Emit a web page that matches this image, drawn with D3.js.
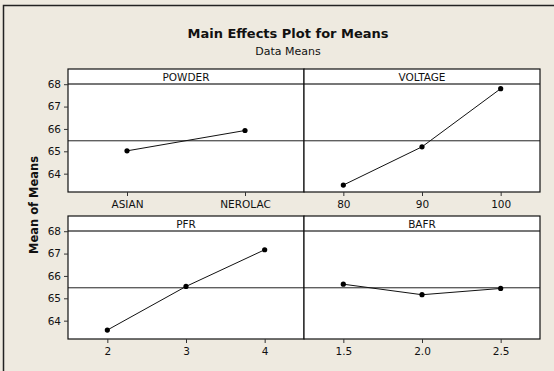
<!DOCTYPE html>
<html>
<head>
<meta charset="utf-8">
<script src="https://cdn.jsdelivr.net/npm/d3@7"></script>
<style>
  body { margin: 0; background: #fff; }
  svg text { font-family: "DejaVu Sans", sans-serif; fill: #111; }
</style>
</head>
<body>
<svg id="chart"></svg>
<script>
const factors = ["POWDER", "VOLTAGE", "PFR", "BAFR"];
const powderLevels = ["ASIAN", "NEROLAC"];
const powderMeans = [65.02, 65.93];
const voltageLevels = ["80", "90", "100"];
const voltageMeans = [63.49, 65.2, 67.8];
const pfrLevels = ["2", "3", "4"];
const pfrMeans = [63.58, 65.53, 67.17];
const bafrLevels = ["1.5", "2.0", "2.5"];
const bafrMeans = [65.63, 65.16, 65.44];
const grandMean = 65.47;
const yTicks = [64, 65, 66, 67, 68];

const width = 554, height = 371;
const svg = d3.select("#chart").attr("width", width).attr("height", height);

// background + frame (only left/top edges are visible)
svg.append("rect").attr("width", width).attr("height", height).attr("fill", "#eeeae0");
svg.append("path").attr("d", `M3.5,${height} V5.5 H${width}`)
  .attr("fill", "none").attr("stroke", "#222").attr("stroke-width", 1.5);

svg.append("text").attr("x", 288).attr("y", 38).attr("text-anchor", "middle")
  .style("font-weight", "bold").style("font-size", "13px").text("Main Effects Plot for Means");
svg.append("text").attr("x", 288).attr("y", 55).attr("text-anchor", "middle")
  .style("font-size", "11px").text("Data Means");

svg.append("text")
  .attr("transform", "translate(38,205) rotate(-90)")
  .attr("text-anchor", "middle")
  .style("font-weight", "bold").style("font-size", "11.5px")
  .text("Mean of Means");

const panels = [
  { name: factors[0], levels: powderLevels, means: powderMeans, col: 0, row: 0 },
  { name: factors[1], levels: voltageLevels, means: voltageMeans, col: 1, row: 0 },
  { name: factors[2], levels: pfrLevels, means: pfrMeans, col: 0, row: 1 },
  { name: factors[3], levels: bafrLevels, means: bafrMeans, col: 1, row: 1 },
];

const colX = [68, 304], panelW = 236;
const rowY = [69, 216], panelH = 123, stripH = 15;

panels.forEach(p => {
  const x0 = colX[p.col], y0 = rowY[p.row];
  const g = svg.append("g").attr("transform", `translate(${x0},${y0})`);

  const x = d3.scalePoint().domain(p.levels).range([0, panelW]).padding(0.5);
  const y = d3.scaleLinear().domain([63.18, 68.68]).range([panelH, 0]);

  g.append("rect").attr("width", panelW).attr("height", panelH).attr("fill", "#fff");

  // reference line at the grand mean
  g.append("line").attr("x1", 0).attr("x2", panelW)
    .attr("y1", y(grandMean)).attr("y2", y(grandMean))
    .attr("stroke", "#222").attr("stroke-width", 1);

  const pts = p.levels.map((l, i) => [x(l), y(p.means[i])]);
  g.append("path").attr("d", d3.line()(pts))
    .attr("fill", "none").attr("stroke", "#111").attr("stroke-width", 1);
  g.selectAll("circle").data(pts).join("circle")
    .attr("cx", d => d[0]).attr("cy", d => d[1]).attr("r", 2.6).attr("fill", "#000");

  // strip header
  g.append("rect").attr("width", panelW).attr("height", stripH).attr("fill", "#fff");
  g.append("line").attr("x1", 0).attr("x2", panelW)
    .attr("y1", stripH).attr("y2", stripH)
    .attr("stroke", "#777").attr("stroke-width", 2);
  g.append("text").attr("x", panelW / 2).attr("y", stripH - 3.5)
    .attr("text-anchor", "middle").style("font-size", "10.5px").text(p.name);

  g.append("rect").attr("width", panelW).attr("height", panelH)
    .attr("fill", "none").attr("stroke", "#111").attr("stroke-width", 1.2);

  // x axis
  const xa = g.append("g").attr("transform", `translate(0,${panelH})`)
    .call(d3.axisBottom(x).tickSize(4).tickSizeOuter(0).tickPadding(5));
  xa.select(".domain").remove();
  xa.selectAll("line").attr("stroke", "#333");
  xa.selectAll("text").style("font-size", "10.5px").style("font-family", "DejaVu Sans").attr("fill", "#111");

  // y axis only on the left column
  if (p.col === 0) {
    const ya = g.append("g")
      .call(d3.axisLeft(y).tickValues(yTicks).tickSize(4).tickPadding(3).tickFormat(d3.format("d")));
    ya.select(".domain").remove();
    ya.selectAll("line").attr("stroke", "#333");
    ya.selectAll("text").style("font-size", "10.5px").style("font-family", "DejaVu Sans").attr("fill", "#111");
  }
});
</script>
</body>
</html>
